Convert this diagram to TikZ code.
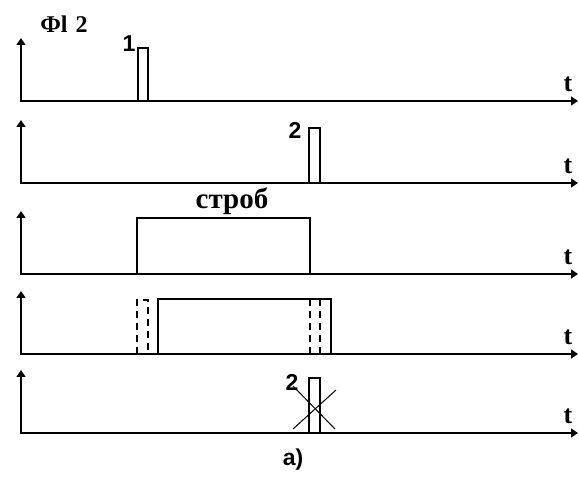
\documentclass[tikz,border=0pt]{standalone}
\usepackage{fontspec}
\setmainfont{Liberation Serif}
\newfontfamily\digfont{Liberation Sans}
\usetikzlibrary{arrows.meta}
\begin{document}
\begin{tikzpicture}[x=1pt,y=-1pt,
    axis/.style={line width=1.6pt,{Triangle[length=7pt,width=9pt]}-{Triangle[length=7pt,width=9pt]}},
    sig/.style={line width=1.3pt},
    ghost/.style={line width=1.2pt,dash pattern=on 7pt off 5pt},
    cross/.style={line width=1pt},
    lbl/.style={font=\fontsize{26}{26}\selectfont\bfseries},
    num/.style={font=\digfont\fontsize{23}{23}\selectfont\bfseries},
    every node/.style={inner sep=0pt}]
  \useasboundingbox (0,0) rectangle (579,478);
  % five time axes, one for each trace
  \foreach \r/\yb in {1/101,2/183,3/274,4/354,5/433}{
    \coordinate (v\r) at (21,\yb-63);
    \coordinate (o\r) at (21,\yb);
    \coordinate (e\r) at (578,\yb);
    \draw[axis] (v\r) -- (o\r) -- (e\r);
    \node[lbl] (t\r) at (568,\yb-17) {t};
  }
  \node[lbl,font=\fontsize{24}{24}\selectfont\bfseries] (fi) at (64,24) {Фl\,\,2};
  % pulse 1 and pulse 2
  \draw[sig] (138,101) |- (148,48) -- (148,101);
  \node[num] (p1) at (129,44) {1};
  \draw[sig] (309,183) |- (320,128) -- (320,183);
  \node[num] (p2) at (295,130) {2};
  % the strobe
  \draw[sig] (137,274) |- (310,218) -- (310,274);
  \node[lbl,font=\fontsize{29}{29}\selectfont\bfseries] (strob) at (232,201) {строб};
  % shifted strobe, old edges dashed
  \draw[sig] (158,354) |- (331,299) -- (331,354);
  \draw[ghost] (137,354) |- (148,300) -- (148,354);
  \draw[ghost] (310,354) -- (310,299);
  \draw[ghost] (320,354) -- (320,299);
  % pulse 2 falls outside: crossed out
  \draw[sig] (309,433) |- (320,378) -- (320,433);
  \node[num] (p2x) at (292,382) {2};
  \draw[cross] (293,386) -- (335,429);
  \draw[cross] (293,429) -- (336,390);
  \node[num] (capa) at (293,460) {а)};
\end{tikzpicture}
\end{document}
